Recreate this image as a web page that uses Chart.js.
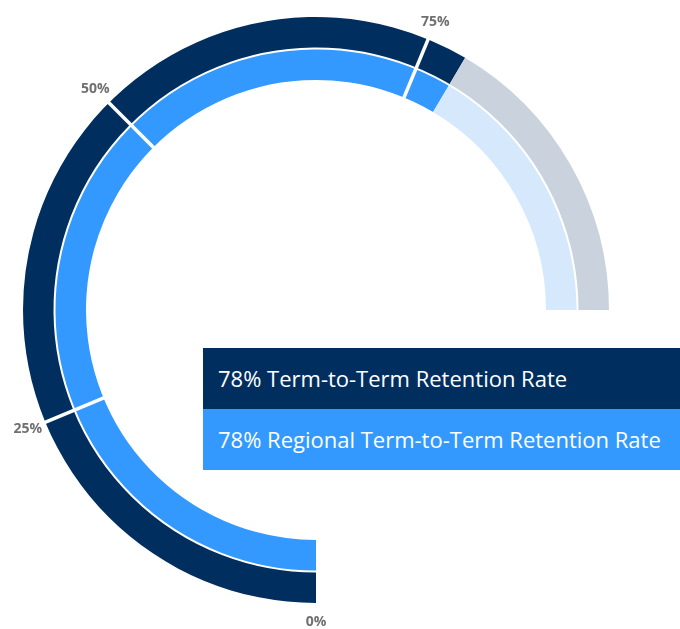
<!DOCTYPE html>
<html>
<head>
<meta charset="utf-8">
<script src="https://cdn.jsdelivr.net/npm/chart.js@4/dist/chart.umd.min.js"></script>
<style>
  html, body { margin: 0; padding: 0; background: #fff; }
  #wrap { position: relative; width: 680px; height: 629px; font-family: "Open Sans", sans-serif; }
  #legend { position: absolute; left: 203px; top: 348px; width: 477px; }
  .item { height: 61px; line-height: 61px; padding-left: 15px; color: #fff; font-size: 22px; }
</style>
</head>
<body>
<div id="wrap">
  <canvas id="myChart"></canvas>
  <div id="legend"></div>
</div>
<script>
var seriesNames  = ["Term-to-Term Retention Rate", "Regional Term-to-Term Retention Rate"],
    seriesValues = [78, 78],
    fillColors   = ["#002f5f", "#3399ff"],
    restColors   = ["#cad3dd", "#d5e8fc"],
    tickValues   = [0, 25, 50, 75],
    tickLabels   = ["0%", "25%", "50%", "75%"];

// white radial separators at each tick, plus a thin white gap between the rings
var separators = {
  id: "separators",
  afterDatasetsDraw: function(chart) {
    var ctx   = chart.ctx,
        outer = chart.getDatasetMeta(0).data[0],
        inner = chart.getDatasetMeta(1).data[0],
        start = outer.startAngle,
        span  = chart.options.circumference * Math.PI / 180;

    ctx.save();
    ctx.strokeStyle = "#fff";
    ctx.lineWidth = 3.5;
    tickValues.forEach(function(v) {
      if (v === 0) return;
      var a = start + span * v / 100;
      ctx.beginPath();
      ctx.moveTo(outer.x + Math.cos(a) * (inner.innerRadius - 1), outer.y + Math.sin(a) * (inner.innerRadius - 1));
      ctx.lineTo(outer.x + Math.cos(a) * (outer.outerRadius + 1), outer.y + Math.sin(a) * (outer.outerRadius + 1));
      ctx.stroke();
    });

    ctx.lineWidth = 2;
    ctx.beginPath();
    ctx.arc(outer.x, outer.y, outer.innerRadius, start - 0.01, start + span + 0.01);
    ctx.stroke();

    ctx.fillStyle = "#707070";
    ctx.font = "bold 14px 'Open Sans'";
    ctx.textAlign = "center";
    ctx.textBaseline = "middle";
    tickValues.forEach(function(v, i) {
      var a = start + span * v / 100,
          r = outer.outerRadius + 19;
      ctx.fillText(tickLabels[i], outer.x + Math.cos(a) * r, outer.y + Math.sin(a) * r);
    });
    ctx.restore();
  }
};

var datasets = seriesValues.map(function(v, i) {
  return {
    label: seriesNames[i],
    data: [v, 100 - v],
    backgroundColor: [fillColors[i], restColors[i]],
    borderWidth: 0
  };
});

var myChart = new Chart(document.getElementById("myChart"), {
  type: "doughnut",
  data: { labels: ["Rate", "Remaining"], datasets: datasets },
  options: {
    responsive: true,
    maintainAspectRatio: false,
    animation: false,
    rotation: 180,
    circumference: 270,
    cutout: 230,
    layout: { padding: { left: 23, top: 17, right: 71, bottom: 26 } },
    plugins: { legend: { display: false }, tooltip: { enabled: false } }
  },
  plugins: [separators]
});

var legend = document.getElementById("legend");
seriesValues.forEach(function(v, i) {
  var div = document.createElement("div");
  div.className = "item";
  div.style.background = fillColors[i];
  div.textContent = v + "% " + seriesNames[i];
  legend.appendChild(div);
});
</script>
</body>
</html>
